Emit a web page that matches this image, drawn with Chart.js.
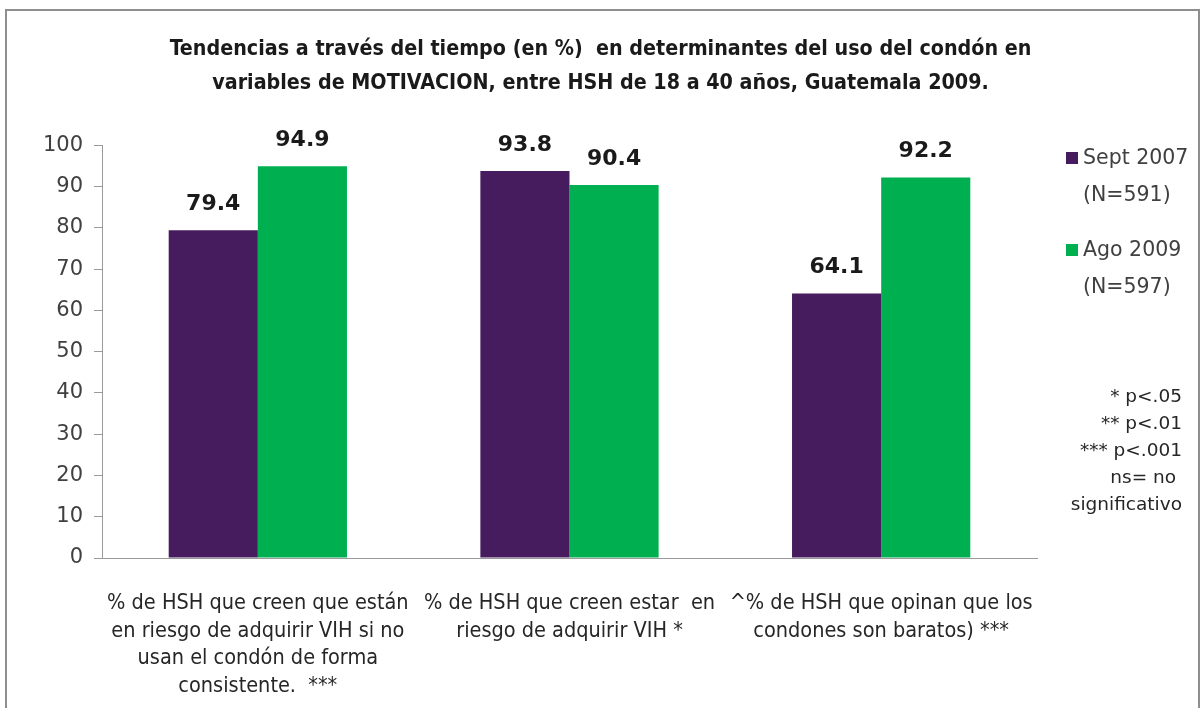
<!DOCTYPE html>
<html>
<head>
<meta charset="utf-8">
<script src="https://cdn.jsdelivr.net/npm/chart.js@4.4.1/dist/chart.umd.min.js"></script>
<style>
  html, body { margin: 0; padding: 0; background: #fff; }
  #wrap { position: relative; width: 1201px; height: 708px; overflow: hidden; }
  #frame { position: absolute; left: 5px; top: 9px; width: 1191px; height: 720px;
           border: 2px solid #8e8e8e; pointer-events: none; }
  canvas { position: absolute; left: 0; top: 0; }
  .leg { position: absolute; font-family: "DejaVu Sans", sans-serif; font-size: 20.5px; color: #404040; line-height: 37px; }
  .sw { position: absolute; width: 12px; height: 12px; }
  .notes { position: absolute; right: 19px; top: 382px; text-align: right;
           font-family: "DejaVu Sans", sans-serif; font-size: 18.5px; color: #262626; line-height: 27px; }
</style>
</head>
<body>
<div id="wrap">
  <canvas id="c" width="1201" height="708"></canvas>
  <div id="frame"></div>
  <div id="legend"></div>
  <div class="notes">* p&lt;.05<br>** p&lt;.01<br>*** p&lt;.001<br>ns= no&nbsp;<br>significativo</div>
</div>
<script>
// ---- data ----
const titleLines = [
  "Tendencias a través del tiempo (en %)  en determinantes del uso del condón en",
  "variables de MOTIVACION, entre HSH de 18 a 40 años, Guatemala 2009."
];
const categories = [
  ["% de HSH que creen que están", "en riesgo de adquirir VIH si no", "usan el condón de forma", "consistente.  ***"],
  ["% de HSH que creen estar  en", "riesgo de adquirir VIH *"],
  ["^% de HSH que opinan que los", "condones son baratos) ***"]
];
const seriesNames = [["Sept 2007", "(N=591)"], ["Ago 2009", "(N=597)"]];
const sept2007 = [79.4, 93.8, 64.1];
const ago2009 = [94.9, 90.4, 92.2];
const yTicks = [0, 10, 20, 30, 40, 50, 60, 70, 80, 90, 100];
const colors = ["#461c5e", "#00b050"];

// ---- legend (HTML) ----
const legendEl = document.getElementById('legend');
const legTops = [139, 231];
seriesNames.forEach((lines, i) => {
  const sw = document.createElement('div');
  sw.className = 'sw';
  sw.style.left = '1066px';
  sw.style.top = (legTops[i] + 13) + 'px';
  sw.style.background = colors[i];
  legendEl.appendChild(sw);
  const t = document.createElement('div');
  t.className = 'leg';
  t.style.left = '1083px';
  t.style.top = legTops[i] + 'px';
  t.innerHTML = lines[0] + '<br>' + lines[1];
  legendEl.appendChild(t);
});

// ---- value labels plugin ----
const valueLabels = {
  id: 'valueLabels',
  afterDatasetsDraw(chart) {
    const ctx = chart.ctx;
    ctx.save();
    ctx.font = 'bold 22px "DejaVu Sans", sans-serif';
    ctx.fillStyle = '#1a1a1a';
    ctx.textAlign = 'center';
    ctx.textBaseline = 'middle';
    chart.data.datasets.forEach((ds, di) => {
      const meta = chart.getDatasetMeta(di);
      meta.data.forEach((bar, i) => {
        ctx.fillText(ds.data[i].toFixed(1), bar.x, bar.y - 26);
      });
    });
    ctx.restore();
  }
};

new Chart(document.getElementById('c'), {
  type: 'bar',
  data: {
    labels: categories,
    datasets: [
      { label: seriesNames[0].join(' '), data: sept2007, backgroundColor: colors[0] },
      { label: seriesNames[1].join(' '), data: ago2009, backgroundColor: colors[1] }
    ]
  },
  options: {
    responsive: false,
    animation: false,
    datasets: { bar: { categoryPercentage: 0.572, barPercentage: 1.0 } },
    layout: { padding: 0 },
    plugins: {
      legend: { display: false },
      tooltip: { enabled: false },
      title: {
        display: true,
        text: titleLines,
        color: '#1a1a1a',
        font: { family: '"DejaVu Sans Condensed", "DejaVu Sans", sans-serif', size: 21.3, weight: 'bold', lineHeight: 1.58 },
        padding: { top: 33, bottom: 45 }
      }
    },
    scales: {
      x: {
        grid: { display: false, drawTicks: false },
        border: { display: true, color: '#9a9a9a', width: 1 },
        ticks: {
          autoSkip: false, maxRotation: 0, minRotation: 0,
          color: '#262626',
          padding: 31,
          font: { family: '"DejaVu Sans Condensed", "DejaVu Sans", sans-serif', size: 21.5, lineHeight: 1.3 }
        },
        afterFit(s) { s.height = 150; }
      },
      y: {
        min: 0, max: 100,
        afterBuildTicks(s) { s.ticks = yTicks.map(v => ({ value: v })); },
        grid: { drawOnChartArea: false, drawTicks: true, tickLength: 8, color: '#9a9a9a' },
        border: { display: true, color: '#9a9a9a', width: 1 },
        ticks: {
          color: '#404040', padding: 11,
          font: { family: '"DejaVu Sans", sans-serif', size: 21 }
        },
        afterFit(s) { s.width = 102; }
      },
      spacer: {
        type: 'linear', position: 'right', display: true,
        grid: { display: false, drawTicks: false },
        border: { display: false },
        ticks: { display: false },
        afterFit(s) { s.width = 164; }
      }
    }
  },
  plugins: [valueLabels]
});
</script>
</body>
</html>
